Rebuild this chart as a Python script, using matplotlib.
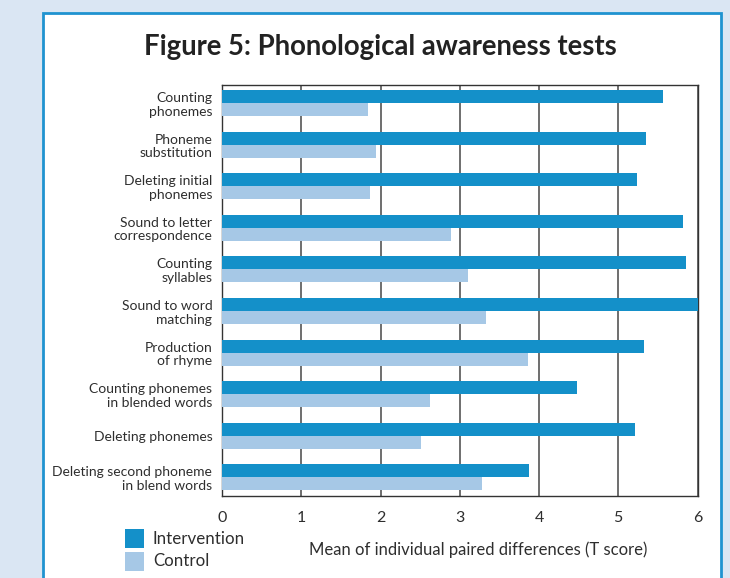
import matplotlib
matplotlib.use("Agg")
import matplotlib.pyplot as plt
from matplotlib.patches import Rectangle
import numpy as np

categories = [
    "Counting\nphonemes",
    "Phoneme\nsubstitution",
    "Deleting initial\nphonemes",
    "Sound to letter\ncorrespondence",
    "Counting\nsyllables",
    "Sound to word\nmatching",
    "Production\nof rhyme",
    "Counting phonemes\nin blended words",
    "Deleting phonemes",
    "Deleting second phoneme\nin blend words",
]
intervention = [5.56, 5.35, 5.24, 5.82, 5.85, 6.0, 5.33, 4.48, 5.21, 3.88]
control = [1.84, 1.94, 1.87, 2.89, 3.11, 3.33, 3.86, 2.63, 2.51, 3.28]
xticks = [0, 1, 2, 3, 4, 5, 6]
series_names = ["Intervention", "Control"]

C_INT = "#1490c9"
C_CTL = "#a6c8e6"
TXT = "#2e2e2e"
FONT = ["Lato", "DejaVu Sans"]

plt.rcParams["font.family"] = FONT

fig = plt.figure(figsize=(7.3, 5.78), dpi=100)
fig.patch.set_facecolor("#dae6f3")

# white panel with blue border
panel = Rectangle((42.5 / 730, -0.05), (721 - 42.5) / 730, 1.05 - 13 / 578,
                  transform=fig.transFigure, facecolor="white",
                  edgecolor="#1f93d0", linewidth=2.0, zorder=-10)
fig.patches.append(panel)

ax = fig.add_axes([222 / 730, 1 - 496 / 578, (697.5 - 222) / 730, (496 - 84.5) / 578])
ax.set_zorder(5)
ax.set_facecolor("white")

y = np.arange(len(categories))
h = 0.313
ax.barh(y - h / 2, intervention, height=h, color=C_INT, label=series_names[0], zorder=3)
ax.barh(y + h / 2, control, height=h, color=C_CTL, label=series_names[1], zorder=3)

ax.set_ylim(len(categories) - 1 + 0.45, -0.45)
ax.set_xlim(0, 6)
ax.set_xticks(xticks)
ax.set_xticklabels([str(t) for t in xticks], fontsize=11.5, color=TXT)
ax.set_yticks(y)
ax.set_yticklabels(categories, fontsize=10, color=TXT, linespacing=1.15)
ax.tick_params(axis="y", length=0, pad=7)
ax.tick_params(axis="x", length=0, pad=11)
ax.grid(axis="x", color="#555555", linewidth=1.2, zorder=1)
ax.set_axisbelow(True)
for s in ax.spines.values():
    s.set_color("#333333")
    s.set_linewidth(1.0)

fig.text(380 / 730, 1 - 47 / 578, "Figure 5: Phonological awareness tests",
         ha="center", va="center", fontsize=19.8, fontweight="bold", color="#222222")

fig.text(478 / 730, 1 - 550 / 578, "Mean of individual paired differences (T score)",
         ha="center", va="center", fontsize=12, color=TXT)

# legend
for i, (name, col) in enumerate(zip(series_names, [C_INT, C_CTL])):
    yc = 538.5 + i * 22.5
    fig.patches.append(Rectangle((125 / 730, 1 - (yc + 9.5) / 578), 19 / 730, 19 / 578,
                                 transform=fig.transFigure, facecolor=col, edgecolor="none"))
    fig.text(153 / 730, 1 - yc / 578, name, ha="left", va="center", fontsize=12.2, color=TXT)

fig.savefig("out.png", dpi=100)
